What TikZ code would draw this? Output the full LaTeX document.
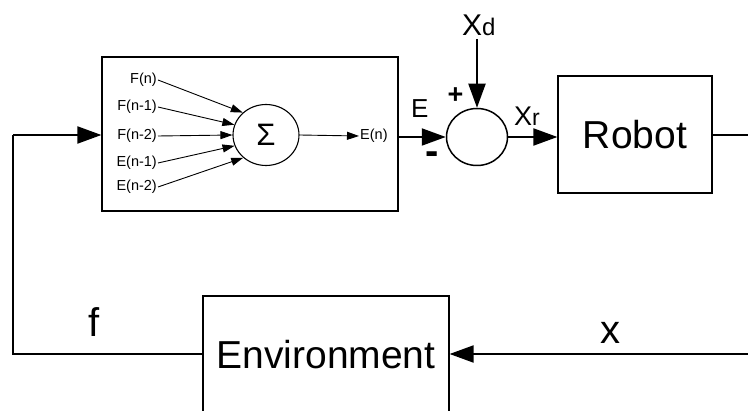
\documentclass[tikz,border=0pt]{standalone}
\usepackage{fontspec}
\setmainfont{Liberation Sans}
\usetikzlibrary{arrows.meta,shapes.geometric}
\newcommand\setfs[1]{\fontsize{#1}{#1}\selectfont}
\tikzset{
  box/.style={draw, line width=1.2pt, rectangle, inner sep=0pt},
  bigarrow/.style={line width=2pt, -{Triangle[length=24pt,width=17pt]}},
  mainline/.style={line width=2pt},
  smallarrow/.style={line width=0.9pt, -{Triangle[length=12pt,width=8pt]}},
  inlabel/.style={inner sep=1pt, anchor=east, font=\setfs{14.5}},
  biglabel/.style={font=\setfs{39}, inner sep=0pt},
}
\begin{document}
\begin{tikzpicture}[x=1pt,y=-1pt]
\clip (0,0) rectangle (748,411);
\fill[white] (0,0) rectangle (748,411);

% controller box
\node[box, minimum width=296pt, minimum height=154pt] (ctrl) at (250,134) {};
\node[draw, ellipse, line width=1.1pt, minimum width=66pt, minimum height=61pt, inner sep=0pt,
      font=\setfs{31}] (sig) at (266,135) {Σ};
\node[inlabel] (fn)  at (158,80)  {F(n)};
\node[inlabel] (fn1) at (158,107) {F(n-1)};
\node[inlabel] (fn2) at (158,136) {F(n-2)};
\node[inlabel] (en1) at (158,163) {E(n-1)};
\node[inlabel] (en2) at (158,187) {E(n-2)};
\node[inner sep=1pt, anchor=west, font=\setfs{14.5}] (en) at (359,136) {E(n)};
\draw[smallarrow] (fn.east)  -- (sig.136);
\draw[smallarrow] (fn1.east) -- (sig.162);
\draw[smallarrow] (fn2.east) -- (sig.180);
\draw[smallarrow] (en1.east) -- (sig.199);
\draw[smallarrow] (en2.east) -- (sig.225);
\draw[smallarrow] (sig.east) -- (en.west);

% summing junction
\node[draw, ellipse, line width=1.5pt, minimum width=61pt, minimum height=57pt, inner sep=0pt] (sum) at (477,137) {};
\node[anchor=base west, inner sep=0pt] (xd) at (462,36) {{\setfs{30}X}{\setfs{24}d}};
\coordinate (xdtop) at (477,39);
\draw[bigarrow] (xdtop) -- (sum.north);
\node[anchor=base, inner sep=0pt, font=\setfs{27}\bfseries] (plus) at (455.5,104) {+};
\node[anchor=base west, inner sep=0pt, font=\setfs{26}] (elab) at (411,118) {E};
\node[anchor=base, inner sep=0pt, font=\setfs{40}\bfseries] (minus) at (432.5,165) {-};
\node[anchor=base west, inner sep=0pt] (xr) at (514,126) {{\setfs{27}X}{\setfs{23}r}};
\draw[bigarrow] (ctrl.east |- sum.west) -- (sum.west);

% robot
\node[box, minimum width=154pt, minimum height=117pt, biglabel] (robot) at (635,134.5) {Robot};
\draw[bigarrow] (sum.east) -- (sum.east -| robot.west);

% environment
\node[box, minimum width=246pt, minimum height=118pt, biglabel] (env) at (326,355) {Environment};
\coordinate (rr) at (760,135);
\coordinate (rb) at (760,354);
\coordinate (lb) at (13,354);
\coordinate (lt) at (13,135);
\draw[mainline] (robot.east |- rr) -- (rr) -- (rb);
\draw[bigarrow] (rb) -- (env.east |- rb);
\draw[mainline] (env.west |- lb) -- (lb) -- (lt);
\draw[bigarrow] (lt) -- (ctrl.west |- lt);
\node[biglabel, font=\setfs{40}] (flab) at (94,322) {f};
\node[biglabel, font=\setfs{40}] (xlab) at (610,333) {x};
\end{tikzpicture}
\end{document}
